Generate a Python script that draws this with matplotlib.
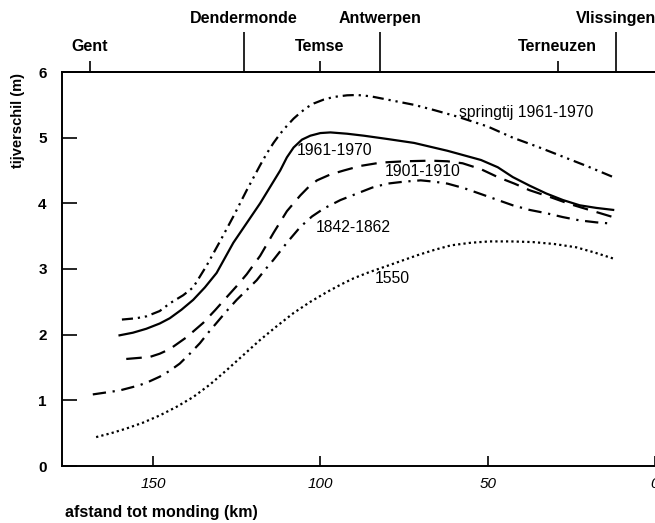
import matplotlib
matplotlib.use("Agg")
import matplotlib.pyplot as plt

plt.rcParams['font.family'] = ['Liberation Sans', 'DejaVu Sans']

# ---- data ----
km_spring = [159.3, 155, 151.9, 148, 144.9, 141, 138, 134, 130, 126, 122, 118, 116, 114, 112, 110, 108, 106,
             104, 102, 99, 96, 92, 89, 85, 82, 77, 72, 66, 59, 50, 42.5, 35, 27.5, 20, 12.5]
val_spring = [2.23, 2.25, 2.28, 2.36, 2.48, 2.6, 2.72, 3.05, 3.42, 3.8, 4.2, 4.58, 4.76, 4.92, 5.06, 5.18, 5.29, 5.38,
              5.46, 5.52, 5.58, 5.62, 5.645, 5.65, 5.63, 5.6, 5.55, 5.5, 5.42, 5.32, 5.17, 5.0, 4.86, 4.71, 4.56, 4.4]

km_1961 = [160, 156, 152, 148, 145, 141.5, 138, 134.5, 131, 128.5, 126, 122, 118, 115, 112, 110, 108, 105.5,
           103, 100, 97, 92, 87, 80, 72, 62, 52, 47, 42.5, 37.5, 32.5, 27.5, 22.5, 17.5, 12.5]
val_1961 = [1.99, 2.03, 2.09, 2.17, 2.25, 2.38, 2.53, 2.72, 2.94, 3.17, 3.4, 3.7, 4.0, 4.25, 4.5, 4.7, 4.85, 4.97,
            5.03, 5.07, 5.08, 5.06, 5.03, 4.98, 4.92, 4.8, 4.66, 4.55, 4.4, 4.27, 4.15, 4.05, 3.97, 3.93, 3.9]

km_1901 = [158, 151, 148, 145, 140, 135, 131.5, 128, 125, 122, 118, 114, 110, 106, 103.5, 101, 97, 93, 88, 82,
           75, 67, 62, 57.5, 52, 47, 42, 37.5, 31, 25.5, 19, 12.5]
val_1901 = [1.63, 1.66, 1.71, 1.78, 1.96, 2.18, 2.37, 2.57, 2.74, 2.92, 3.2, 3.55, 3.88, 4.12, 4.25, 4.35, 4.44, 4.5, 4.57, 4.62,
            4.64, 4.65, 4.64, 4.61, 4.52, 4.4, 4.3, 4.2, 4.09, 3.99, 3.89, 3.79]

km_1842 = [168, 164, 160, 157, 154, 151, 148, 145, 142, 139, 136, 133.5, 131, 128, 125, 122, 119, 116.5, 114, 110,
           106, 102.5, 99, 94, 89, 84.5, 80, 75, 70, 66, 62, 57, 52.5, 47.5, 42.5, 37.5, 32.5, 27.5, 22.5, 17.5, 12.5]
val_1842 = [1.09, 1.12, 1.15, 1.19, 1.23, 1.29, 1.36, 1.45, 1.56, 1.71, 1.87, 2.03, 2.18, 2.36, 2.53, 2.68, 2.83, 2.99, 3.14, 3.4,
            3.64, 3.8, 3.92, 4.05, 4.15, 4.24, 4.3, 4.33, 4.35, 4.33, 4.3, 4.23, 4.15, 4.06, 3.97, 3.9, 3.85, 3.79, 3.74, 3.71, 3.69]

km_1550 = [167, 162.5, 158, 153, 148, 143, 138, 133, 128, 123, 118, 113, 108, 103, 98, 94, 90, 85.5, 81, 76, 71,
           66, 61, 55, 49.5, 43, 36.5, 30, 23.5, 18, 12.5]
val_1550 = [0.44, 0.5, 0.57, 0.66, 0.77, 0.9, 1.05, 1.24, 1.46, 1.69, 1.92, 2.13, 2.33, 2.5, 2.65, 2.76, 2.86, 2.95, 3.03, 3.12, 3.21,
            3.29, 3.36, 3.4, 3.42, 3.42, 3.41, 3.38, 3.33, 3.25, 3.16]

series_labels = ["springtij 1961-1970", "1961-1970", "1901-1910", "1842-1862", "1550"]
label_pos = [(58.7, 5.39), (107, 4.80), (80.7, 4.48), (101.3, 3.63), (83.7, 2.86)]

x_ticks = [150, 100, 50, 0]
y_ticks = [0, 1, 2, 3, 4, 5, 6]
city_major = ["Dendermonde", "Antwerpen", "Vlissingen"]
city_major_km = [122.9, 82.2, 11.7]
city_minor = ["Gent", "Temse", "Terneuzen"]
city_minor_km = [168.9, 100.1, 29.1]

# ---- figure ----
fig = plt.figure(figsize=(6.55, 5.23), dpi=100)
ax = fig.add_axes([62/655, 57/523, (655-62)/655, (466-72)/523])

lw = 1.6
k = 'black'
ax.plot(km_spring, val_spring, color=k, lw=lw, dashes=(5, 2.2, 1, 2.2, 1, 2.2))
ax.plot(km_1961, val_1961, color=k, lw=lw)
ax.plot(km_1901, val_1901, color=k, lw=lw, dashes=(7, 4))
ax.plot(km_1842, val_1842, color=k, lw=lw, dashes=(6, 3, 1, 3))
ax.plot(km_1550, val_1550, color=k, lw=lw, dashes=(1, 1.4))

for lab, (x, y) in zip(series_labels, label_pos):
    ax.text(x, y, lab, fontsize=11.3, ha='left', va='center')

ax.set_xlim(177.2, 0)
ax.set_ylim(0, 6)

ax.spines['right'].set_visible(False)
for s in ['left', 'bottom', 'top']:
    ax.spines[s].set_linewidth(1.4)

ax.set_xticks(x_ticks)
ax.set_xticklabels([str(v) for v in x_ticks], fontstyle='italic', fontsize=11)
ax.set_yticks(y_ticks)
ax.set_yticklabels([str(v) for v in y_ticks], fontweight='bold', fontsize=11)
ax.tick_params(axis='x', direction='in', length=7, width=1.2, pad=8, top=False)
ax.tick_params(axis='y', direction='in', length=11, width=1.2, pad=11, right=False)

ax.set_xlabel("afstand tot monding (km)", fontweight='bold', fontsize=11.5)
ax.xaxis.set_label_coords(0.005, -0.10)
ax.xaxis.label.set_ha('left')
ax.set_ylabel("tijverschil (m)", fontweight='bold', fontsize=10.5)
ax.yaxis.set_label_coords(-0.062, 0.878)

# top axis with place names
top = ax.secondary_xaxis('top')
top.set_xticks(city_major_km)
top.set_xticklabels(city_major, fontweight='bold', fontsize=11.5)
top.set_xticks(city_minor_km, minor=True)
top.set_xticklabels(city_minor, minor=True, fontweight='bold', fontsize=11.5)
top.tick_params(axis='x', which='major', direction='out', length=29, width=1.2, pad=4)
top.tick_params(axis='x', which='minor', direction='out', length=8, width=1.2, pad=5)
top.spines['top'].set_linewidth(1.4)

fig.savefig("out.png", dpi=100)
